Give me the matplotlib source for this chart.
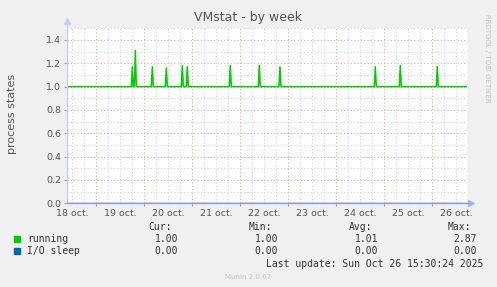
import matplotlib
matplotlib.use('Agg')
import matplotlib.pyplot as plt
from matplotlib.ticker import MultipleLocator

# x values are days since 18 oct 00:00
day_labels = ['18 oct.', '19 oct.', '20 oct.', '21 oct.', '22 oct.',
              '23 oct.', '24 oct.', '25 oct.', '26 oct.']
x_start, x_end = 0.385, 8.74
baseline = 1.0

# spikes in the "running" series
spike_days = [1.756, 1.819, 2.173, 2.465, 2.798, 2.902, 3.798,
              4.402, 4.833, 6.819, 7.340, 8.110]
spike_vals = [1.17, 1.31, 1.17, 1.16, 1.18, 1.17, 1.18,
              1.18, 1.17, 1.17, 1.18, 1.17]
io_sleep = 0.0

legend_rows = [('running', '#00cc00', ['1.00', '1.00', '1.01', '2.87']),
               ('I/O sleep', '#0066b3', ['0.00', '0.00', '0.00', '0.00'])]

# build the running line: baseline with narrow peaks
step = 1 / 48.0
xs, ys = [x_start], [baseline]
for d, v in zip(spike_days, spike_vals):
    xs += [d - step, d, d + step]
    ys += [baseline, v, baseline]
xs.append(x_end)
ys.append(baseline)

W, H = 497, 287
fig = plt.figure(figsize=(W / 100, H / 100), dpi=100, facecolor='#f0f0f0')
left, right, top, bottom = 66.5, 467.5, 28.3, 203.3
ax = fig.add_axes([left / W, 1 - bottom / H, (right - left) / W, (bottom - top) / H])
ax.set_facecolor('white')
ax.set_xlim(x_start, x_end)
ax.set_ylim(0, 1.5)

# grid
ax.yaxis.set_major_locator(MultipleLocator(0.2))
ax.yaxis.set_minor_locator(MultipleLocator(0.1))
ax.xaxis.set_major_locator(MultipleLocator(1.0))
ax.xaxis.set_minor_locator(MultipleLocator(0.25))
ax.grid(which='minor', color='#d4d4d4', linestyle=(0, (1, 2)), linewidth=0.8)
ax.grid(which='major', color='#eea4a4', linestyle=(0, (1, 2)), linewidth=0.8)
ax.set_axisbelow(True)

for s in ax.spines.values():
    s.set_visible(False)

ax.tick_params(axis='both', which='minor', length=0)
ax.tick_params(axis='both', which='major', length=2, color='#e88080',
               labelsize=6.8, labelcolor='#555555', pad=2)
ax.set_yticks([0.0, 0.2, 0.4, 0.6, 0.8, 1.0, 1.2, 1.4])
ax.set_yticklabels(['0.0', '0.2', '0.4', '0.6', '0.8', '1.0', '1.2', '1.4'])

# day labels sit at noon, without tick marks
ax.set_xticklabels([])
for i, lab in enumerate(day_labels):
    ax.text(i + 0.5, -0.03, lab, transform=ax.get_xaxis_transform(),
            ha='center', va='top', fontsize=6.8, color='#555555', clip_on=False)

# data
ax.plot(xs, ys, color='#00cc00', linewidth=1.1, zorder=3)
ax.plot([x_start, x_end], [io_sleep, io_sleep], color='#0066b3', linewidth=1.0, zorder=3)

# axes with arrows
ax.plot([x_start, x_start], [0, 1.55], color='#c8ccf4', linewidth=1.0,
        clip_on=False, zorder=4)
ax.plot([x_start, x_end + 0.05], [0, 0], color='#8aa0e0', linewidth=1.0,
        clip_on=False, zorder=4)
ax.plot([x_start], [1.565], marker='^', color='#c8ccf4', markersize=4, clip_on=False)
ax.plot([x_end + 0.07], [0], marker='>', color='#a8b8f0', markersize=4, clip_on=False)

# titles
fig.text(248 / W, 1 - 18 / H, 'VMstat - by week', ha='center', va='center',
         fontsize=9, color='#555555')
fig.text(12 / W, 1 - 114 / H, 'process states', rotation=90, ha='center',
         va='center', fontsize=8, color='#555555')
fig.text(487 / W, 1 - 14 / H, 'RRDTOOL / TOBI OETIKER', rotation=270, ha='center',
         va='top', fontsize=5, color='#c4c4c4')

# legend
mono = 'DejaVu Sans Mono'
fs = 7
col_right = [178, 278, 378, 477]
for x, h in zip(col_right, ['Cur:', 'Min:', 'Avg:', 'Max:']):
    fig.text((x - 6) / W, 1 - 227 / H, h, ha='right', va='center',
             family=mono, fontsize=fs, color='#333333')
for r, (name, color, vals) in enumerate(legend_rows):
    y = 239 + 12 * r
    fig.patches.append(plt.Rectangle((14 / W, 1 - (y + 3) / H), 6 / W, 6 / H,
                                     transform=fig.transFigure, color=color))
    fig.text(27 / W, 1 - y / H, name, ha='left', va='center',
             family=mono, fontsize=fs, color='#333333')
    for x, v in zip(col_right, vals):
        fig.text(x / W, 1 - y / H, v, ha='right', va='center',
                 family=mono, fontsize=fs, color='#333333')

fig.text(483 / W, 1 - 264 / H, 'Last update: Sun Oct 26 15:30:24 2025',
         ha='right', va='center', family=mono, fontsize=fs, color='#333333')
fig.text(248 / W, 1 - 277 / H, 'Munin 2.0.67', ha='center', va='center',
         fontsize=5, color='#c4c4c4')

fig.savefig('out.png', dpi=100, facecolor=fig.get_facecolor())
